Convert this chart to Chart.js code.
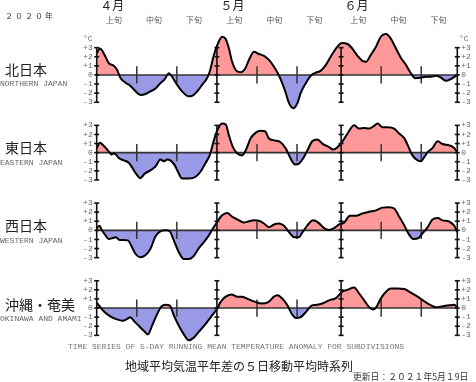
<!DOCTYPE html>
<html><head><meta charset="utf-8">
<script src="https://cdn.jsdelivr.net/npm/chart.js@4.4.1/dist/chart.umd.min.js"></script>
<style>
body{margin:0;background:#fff;}
#wrap{position:relative;width:476px;height:382px;overflow:hidden;background:#fff;}
#c{position:absolute;left:0;top:0;}
.t{position:absolute;white-space:nowrap;line-height:1;}
.jp{font-family:"Noto Sans CJK JP","Noto Sans",sans-serif;color:#222;}
.en{font-family:"Liberation Mono","DejaVu Sans Mono",monospace;color:#666;font-size:8px;}
</style></head>
<body><div id="wrap">
<canvas id="c" width="476" height="382"></canvas>
<div class="t jp" style="left:5px;top:12px;font-size:8px;letter-spacing:2px;color:#333">２０２０年</div>
<div class="t en" style="left:83px;top:35px;font-size:8px">°C</div>
<div class="t en" style="left:459px;top:35px;font-size:8px">°C</div>
<div class="t jp" style="left:5px;top:62px;font-size:14px">北日本</div>
<div class="t en" style="left:0px;top:80px">NORTHERN JAPAN</div>
<div class="t jp" style="left:5px;top:140px;font-size:14px">東日本</div>
<div class="t en" style="left:0px;top:159px">EASTERN JAPAN</div>
<div class="t jp" style="left:5px;top:218px;font-size:14px">西日本</div>
<div class="t en" style="left:0px;top:237px">WESTERN JAPAN</div>
<div class="t jp" style="left:5px;top:297px;font-size:14px">沖縄・奄美</div>
<div class="t en" style="left:0px;top:315px">OKINAWA AND AMAMI</div>
<div class="t en" style="left:68px;top:343px;color:#777">TIME SERIES OF 5-DAY RUNNING MEAN TEMPERATURE ANOMALY FOR SUBDIVISIONS</div>
<div class="t jp" style="left:125px;top:360px;font-size:12px">地域平均気温平年差の５日移動平均時系列</div>
<div class="t jp" style="left:353px;top:373px;font-size:8.8px;color:#333">更新日：２０２１年5月１9日</div>
</div>
<script>
// ---- data (day index from April 1) ----
const northDays = [0,0.8,2.2,3,4.25,5.1,5.9,7.2,8.4,9.7,10.9,12.2,13.4,14.7,15.9,17,18,18.8,20.1,21.3,23,23.8,25.1,26.3,27.6,28.2,29.25,30.5,31.3,32.2,33,33.8,34.9,35.9,37,38,39.25,40.5,41.75,43,44.25,45.3,46.3,47.2,48,49.1,50.1,50.9,52.2,53.4,54.7,55.9,57.2,58.4,59.7,61.2,62.6,63.8,65.1,66.3,67.2,68.4,69.7,70.9,72.2,73.4,74.7,75.9,77.2,78.4,79.5,80.9,82.2,83.4,84.7,85.9,87.2,88.4,90];
const northVals = [2.4,2.9,2.0,1.3,1.0,0.55,-0.3,-0.85,-1.2,-1.8,-2.2,-2.1,-1.8,-1.5,-0.9,-0.45,0.2,-0.2,-1.1,-1.8,-2.35,-2.3,-1.8,-1.1,-0.3,0.35,2.2,3.7,4.2,3.95,2.9,1.45,0.45,0.3,0.65,1.65,2.55,2.3,2.1,1.65,0.9,0.1,-0.9,-2.0,-3.1,-3.65,-3.1,-2.0,-0.9,-0.1,0.25,0.45,1.1,2.0,2.9,3.5,3.4,2.9,2.1,1.55,1.45,2.2,3.1,4.2,4.5,4.0,2.9,1.9,1.1,0.2,-0.35,-0.3,-0.2,-0.2,-0.1,-0.3,-0.65,-0.45,0];

const eastDays = [0,0.8,1.75,2.8,3.7,4.25,4.8,5.5,6.75,8,8.8,9.8,10.9,12,13.4,14.7,15.9,16.75,17.6,18.4,19.5,20.5,21.3,23,24.7,25.9,27.2,28.2,29.25,30.3,31.3,32.2,33,34,35.1,36.3,37.3,38.4,39.7,40.9,42,43,44.25,45.9,47.2,48.4,49.5,50.5,51.5,52.6,53.8,55.1,56.3,58,59,60.1,61.2,62.6,64.25,65.5,66.75,68,69.25,70.1,71.3,72.6,74.25,75.5,76.75,78,78.8,80.1,80.9,81.75,82.6,83.8,85.1,86.3,88,89.25,90];
const eastVals = [0.45,1.1,0.75,0.25,-0.2,-0.1,-0.2,-0.6,-0.85,-1.1,-1.6,-2.3,-2.8,-2.3,-1.95,-1.5,-0.75,-0.95,-0.75,-0.85,-1.4,-2.3,-2.85,-2.85,-2.65,-2.1,-1.1,-0.3,1.35,2.65,3.2,3.1,1.9,0.6,-0.1,-0.3,0.35,1.55,2.2,2.4,2.35,1.55,1.35,1.15,0.45,-0.65,-1.3,-1.2,-0.65,0.25,1.25,1.45,1.0,0.6,0.35,0.6,1.15,2.1,3.0,2.65,2.7,2.65,2.95,3.2,2.8,2.8,2.65,2.1,1.6,0.45,-0.3,-0.85,-0.95,-0.5,0.05,0.5,1.25,0.95,0.8,0.5,0.05];

const westDays = [0,0.7,1.3,2.2,3,4,4.8,5.7,6.75,7.8,8.8,9.7,10.9,12.2,13.4,14.7,15.9,17.2,18.2,19.25,20.5,21.75,23,24.25,25.5,26.75,28,29,30.1,31.3,32.6,33.8,35.1,36.75,38,39.25,40.5,41.75,43,44.25,45.5,46.75,48,49.25,50.5,51.3,52.6,54,55.3,56.75,58,59.25,60.5,61.75,63.2,64.7,66.3,68,69.7,71.3,73,74.25,75.5,76.75,77.8,79,80.3,81.3,82.6,83.8,85.1,86.3,88,89.25,90];
const westVals = [0.25,0.5,0,-0.55,-0.95,-0.85,-0.75,-1.05,-1.05,-1.1,-1.85,-2.6,-2.95,-2.7,-2.05,-0.65,-0.1,0,-0.1,-1.1,-2.4,-3.15,-3.15,-2.8,-1.95,-1.3,-0.55,0.2,0.95,1.65,1.9,1.5,1.2,0.85,1.0,1.1,1.05,0.75,0.35,0.65,0.75,0.5,-0.2,-0.75,-0.75,-0.25,0.55,1.1,0.85,0.25,0.05,0.25,0.65,0.85,1.6,1.6,1.85,2.05,2.2,2.5,2.55,2.4,1.5,0.55,-0.35,-0.95,-0.85,-0.35,0.35,1.2,1.35,1.1,0.95,0.5,-0.2];

const okiDays = [0,0.9,1.75,3,4.25,5.5,6.5,7.6,8.4,9.25,10.5,11.75,12.8,13.8,15.1,16.2,17.2,18.2,19.25,20.5,21.75,23,24.25,25.5,27.2,28.8,30.1,30.9,32.2,33.7,35.1,36.3,38,39.7,41.3,42.8,44.25,45.1,46.3,47.6,48.7,49.8,50.9,52.2,53.4,54.7,56.3,58,59.7,61.3,62.6,64.25,65.5,66.75,68,69,69.8,70.9,72.2,73.4,75.1,76.75,78.4,80.1,81.75,83.2,84.7,86.3,88,89.25,90];
const okiVals = [0.6,0.1,-0.35,-0.8,-1.1,-1.3,-1.4,-1.2,-1.0,-1.4,-1.95,-2.5,-2.9,-1.95,-0.65,0.2,0.35,0.3,-0.8,-1.95,-2.9,-3.55,-3.25,-2.6,-1.75,-0.8,-0.05,0.65,1.25,1.5,1.25,1.25,0.95,0.65,0.5,0.65,1.25,1.4,1.05,0.3,-0.65,-1.1,-1.0,-0.45,0.2,0.35,0.5,0.85,1.1,1.8,2.0,2.25,1.6,0.85,0.1,-0.15,0.1,1.05,1.8,2.15,2.15,2.1,1.7,1.25,0.75,0.35,0.1,0.2,0.3,0.35,0.1];

const tickValues = [-3,-2,-1,0,1,2,3];
const monthNames = ['４月','５月','６月'];
const monthStartDays = [0,30,61,90];
const decadeNames = ['上旬','中旬','下旬'];
const decadeStartDays = [0,10,20,30,40,50,61,71,81];
const decadeTickDays = [10,20,40,50,71,81];

const panels = [
  {days:northDays, vals:northVals},
  {days:eastDays, vals:eastVals},
  {days:westDays, vals:westVals},
  {days:okiDays, vals:okiVals}
];

const RED = 'rgb(255,153,153)';
const BLUE = 'rgb(153,153,230)';
const YMIN = -3.94, YMAX = 4.6;

function fmt(v){ return v>0 ? '+'+v : (v<0 ? '-'+Math.abs(v) : '0'); }
const tickFont = {family:'"Liberation Mono","DejaVu Sans Mono",monospace', size:8};

const scales = { x:{type:'linear', min:0, max:90, display:false} };
panels.forEach((p,i)=>{
  const common = {
    type:'linear', min:YMIN, max:YMAX, stackWeight:1,
    afterBuildTicks:s=>{ s.ticks = tickValues.map(v=>({value:v})); },
    ticks:{callback:fmt, font:tickFont, color:'#666', autoSkip:false, padding:4},
    grid:{display:false, drawTicks:false}, border:{display:false}
  };
  scales['yL'+i] = Object.assign({}, common, {position:'left', stack:'L', weight:4-i, afterFit:s=>{s.width=40;}});
  scales['yR'+i] = Object.assign({}, common, {position:'right', stack:'R', weight:i+1, ticks:Object.assign({}, common.ticks, {padding:4}), afterFit:s=>{s.width=18.7;}});
});

const datasets = panels.map((p,i)=>({
  data: p.days.map((d,k)=>({x:d, y:p.vals[k]})),
  yAxisID:'yL'+i, xAxisID:'x',
  borderColor:'#000', borderWidth:2, pointRadius:0,
  cubicInterpolationMode:'monotone',
  fill:{target:{value:0}, above:RED, below:BLUE}
}));

function seg(ctx,x1,y1,x2,y2){ ctx.beginPath(); ctx.moveTo(x1,y1); ctx.lineTo(x2,y2); ctx.stroke(); }

const frame = {
  id:'frame',
  beforeDatasetsDraw(chart){
    const ctx = chart.ctx, xs = chart.scales.x;
    ctx.save();
    panels.forEach((p,i)=>{
      const ys = chart.scales['yL'+i];
      const z = ys.getPixelForValue(0);
      ctx.strokeStyle='#333'; ctx.lineWidth=1.6;
      seg(ctx, xs.getPixelForValue(0), z, xs.getPixelForValue(90), z);
      ctx.strokeStyle='#333'; ctx.lineWidth=1.5;
      decadeTickDays.forEach(d=>{ const x=xs.getPixelForValue(d); seg(ctx,x,ys.getPixelForValue(0.95),x,ys.getPixelForValue(-0.95)); });
    });
    ctx.restore();
  },
  afterDatasetsDraw(chart){
    const ctx = chart.ctx, xs = chart.scales.x;
    ctx.save();
    panels.forEach((p,i)=>{
      const ys = chart.scales['yL'+i];
      ctx.strokeStyle='#111'; ctx.lineWidth=1.6;
      monthStartDays.forEach(d=>{
        const x = xs.getPixelForValue(d);
        seg(ctx,x,ys.getPixelForValue(3),x,ys.getPixelForValue(-3));
        tickValues.forEach(v=>{ const y=ys.getPixelForValue(v); seg(ctx,x-2.5,y,x+2.5,y); });
      });
    });
    // month and decade headers
    ctx.fillStyle='#222'; ctx.textBaseline='middle';
    ctx.font='12px "Noto Sans CJK JP", sans-serif'; ctx.textAlign='left';
    monthNames.forEach((m,k)=>{ ctx.fillText(m, xs.getPixelForValue(monthStartDays[k])+3.5, 5.5); });
    ctx.fillStyle='#555'; ctx.font='8px "Noto Sans CJK JP", sans-serif'; ctx.textAlign='center';
    decadeStartDays.forEach((d,k)=>{ ctx.fillText(decadeNames[k%3], xs.getPixelForValue(d+4.3), 20); });
    ctx.restore();
  }
};

new Chart(document.getElementById('c'), {
  type:'line',
  data:{datasets},
  options:{
    responsive:false, animation:false, devicePixelRatio:1,
    layout:{padding:{left:56.7, right:0, top:33.1, bottom:38.1}},
    scales,
    plugins:{legend:{display:false}, tooltip:{enabled:false}, filler:{drawTime:'beforeDatasetsDraw'}}
  },
  plugins:[frame]
});
</script>
</body></html>
